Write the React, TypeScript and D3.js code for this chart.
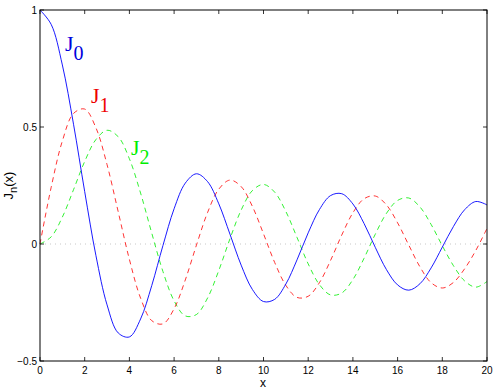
import React from "react";
import * as d3 from "d3";

const xs = [0,0.5,1,1.5,2,2.5,3,3.5,4,4.5,5,5.5,6,6.5,7,7.5,8,8.5,9,9.5,10,10.5,11,11.5,12,12.5,13,13.5,14,14.5,15,15.5,16,16.5,17,17.5,18,18.5,19,19.5,20];
const j0 = [1,0.9385,0.7652,0.5118,0.2239,-0.0484,-0.2601,-0.3801,-0.3971,-0.3205,-0.1776,-0.0068,0.1506,0.2601,0.3001,0.2663,0.1717,0.0419,-0.0903,-0.1939,-0.2459,-0.2366,-0.1712,-0.0677,0.0477,0.1469,0.2069,0.2150,0.1711,0.0875,-0.0142,-0.1092,-0.1749,-0.1973,-0.1699,-0.1022,-0.0134,0.0751,0.1466,0.1816,0.1670];
const j1 = [0,0.2423,0.4401,0.5579,0.5767,0.4971,0.3391,0.1374,-0.0660,-0.2311,-0.3276,-0.3414,-0.2767,-0.1538,-0.0047,0.1352,0.2346,0.2731,0.2453,0.1613,0.0435,-0.0789,-0.1768,-0.2284,-0.2234,-0.1655,-0.0703,0.0380,0.1334,0.1934,0.2051,0.1672,0.0904,-0.0047,-0.0977,-0.1654,-0.1880,-0.1644,-0.1057,-0.0273,0.0668];
const j2 = [0,0.0306,0.1149,0.2321,0.3528,0.4461,0.4861,0.4586,0.3641,0.2178,0.0466,-0.1173,-0.2429,-0.3074,-0.3014,-0.2303,-0.1130,0.0223,0.1448,0.2279,0.2546,0.2216,0.1390,0.0280,-0.0849,-0.1734,-0.2177,-0.2094,-0.1520,-0.0608,0.0416,0.1308,0.1862,0.1967,0.1584,0.0834,-0.0075,-0.0929,-0.1578,-0.1844,-0.1603];
const zeroLine = [0, 0];
const xTicks = [0,2,4,6,8,10,12,14,16,18,20];
const yTicks = [-0.5,0,0.5,1];
const yTickLabels = ["\u22120.5","0","0.5","1"];

export default function App() {
  const L = 40, R = 487, T = 10, B = 361;
  const x = d3.scaleLinear().domain([0, 20]).range([L, R]);
  const y = d3.scaleLinear().domain([-0.5, 1]).range([B, T]);
  const line = (vals: number[]) =>
    d3.line<number>().x((_, i) => x(xs[i])).y((v) => y(v)).curve(d3.curveCatmullRom.alpha(0.5))(vals) || "";
  const font = "'Liberation Sans', Arial, Helvetica, sans-serif";
  const serif = "'Liberation Serif', 'Times New Roman', serif";
  return (
    <svg width={496} height={392} style={{ position: "absolute", left: 0, top: 0, background: "#fff" }}>
      <rect x={0} y={0} width={496} height={392} fill="#fff" />
      <line x1={x(0)} x2={x(20)} y1={y(zeroLine[0])} y2={y(zeroLine[1])} stroke="#c8c8c8" strokeWidth={1} strokeDasharray="1,4" />
      <path d={line(j2)} fill="none" stroke="#00ee00" strokeWidth={0.8} strokeDasharray="5,4" />
      <path d={line(j1)} fill="none" stroke="#ff0000" strokeWidth={0.8} strokeDasharray="5,4" />
      <path d={line(j0)} fill="none" stroke="#0000ff" strokeWidth={0.9} />
      <rect x={L} y={T} width={R - L} height={B - T} fill="none" stroke="#000" strokeWidth={1} />
      {xTicks.map((t) => (
        <g key={"x" + t}>
          <line x1={x(t)} x2={x(t)} y1={B} y2={B - 4} stroke="#000" strokeWidth={0.8} />
          <line x1={x(t)} x2={x(t)} y1={T} y2={T + 4} stroke="#000" strokeWidth={0.8} />
          <text x={x(t)} y={374} fontSize={10} fontFamily={font} textAnchor="middle">{t}</text>
        </g>
      ))}
      {yTicks.map((t, i) => (
        <g key={"y" + t}>
          <line x1={L} x2={L + 4} y1={y(t)} y2={y(t)} stroke="#000" strokeWidth={0.8} />
          <line x1={R} x2={R - 4} y1={y(t)} y2={y(t)} stroke="#000" strokeWidth={0.8} />
          <text x={L - 3} y={y(t) + 3.5} fontSize={10} fontFamily={font} textAnchor="end">{yTickLabels[i]}</text>
        </g>
      ))}
      <text x={263} y={387} fontSize={12} fontFamily={font} textAnchor="middle">x</text>
      <text transform={`translate(13,${(T + B) / 2}) rotate(-90)`} fontSize={13} fontFamily={font} textAnchor="middle">
        J<tspan dy={4} fontSize={11}>n</tspan><tspan dy={-4}>(x)</tspan>
      </text>
      <text x={65} y={51} fontSize={22} fontFamily={serif} fill="#0000dd">
        J<tspan dy={9} fontSize={20}>0</tspan>
      </text>
      <text x={91} y={103} fontSize={22} fontFamily={serif} fill="#ee0000">
        J<tspan dy={9} fontSize={20}>1</tspan>
      </text>
      <text x={131} y={155} fontSize={22} fontFamily={serif} fill="#00ee00">
        J<tspan dy={9} fontSize={20}>2</tspan>
      </text>
    </svg>
  );
}
